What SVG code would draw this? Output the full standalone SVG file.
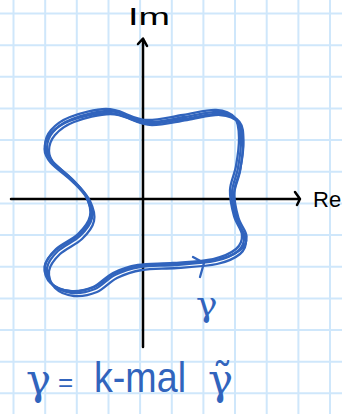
<svg xmlns="http://www.w3.org/2000/svg" width="342" height="414" viewBox="0 0 342 414">
<style>
.grid line{stroke:#cfe7fb;stroke-width:2}
.axis{stroke:#000;stroke-width:2.5;fill:none;stroke-linecap:round;stroke-linejoin:round}
.curve{stroke:#3164bd;stroke-width:2.3;fill:none;stroke-linecap:round;stroke-linejoin:round}
.blue{fill:#3164bd;font-family:"Liberation Sans",Arial,sans-serif}
.gam{fill:#3164bd;font-family:"DejaVu Serif","Liberation Serif",serif}
.black{fill:#000;font-family:"Liberation Sans",Arial,sans-serif}
</style>
<defs>
<path id="loop" d="M150,122 C161,122 172,119 185,117 C196,115.5 208.5,111.5 218,112 C227.5,112.5 233.2,115.3 237,120 C240.8,124.7 240.8,132 241,140 C241.2,148 239.5,159.3 238,168 C236.5,176.7 232.3,183.7 232,192 C231.7,200.3 234,210.5 236,218 C238,225.5 243.7,231.5 244,237 C244.3,242.5 242.8,247 238,251 C233.2,255 225.5,258.7 215,261 C204.5,263.3 187.5,264 175,265 C162.5,266 150,265.3 140,267 C130,268.7 122.5,271.3 115,275 C107.5,278.7 102.2,286 95,289 C87.8,292 79,293.7 72,293 C65,292.3 57.2,289.2 53,285 C48.8,280.8 46.2,273.7 47,268 C47.8,262.3 52.5,256.3 58,251 C63.5,245.7 74.3,241.5 80,236 C85.7,230.5 90.7,224.3 92,218 C93.3,211.7 91,204.2 88,198 C85,191.8 79.8,187 74,181 C68.2,175 57.5,167.5 53,162 C48.5,156.5 47,153 47,148 C47,143 48.8,136.8 53,132 C57.2,127.2 62.8,122.5 72,119 C81.2,115.5 98,111 108,111 C116,111 121,113 127,115.5 C134,118.5 141,122 150,122 Z"/>
</defs>
<rect width="342" height="414" fill="#fff"/>
<g class="grid">
<line x1="13.5" y1="0" x2="13.5" y2="414"/><line x1="45.2" y1="0" x2="45.2" y2="414"/><line x1="76.8" y1="0" x2="76.8" y2="414"/><line x1="108.5" y1="0" x2="108.5" y2="414"/><line x1="140.1" y1="0" x2="140.1" y2="414"/><line x1="171.8" y1="0" x2="171.8" y2="414"/><line x1="203.4" y1="0" x2="203.4" y2="414"/><line x1="235" y1="0" x2="235" y2="414"/><line x1="266.7" y1="0" x2="266.7" y2="414"/><line x1="298.4" y1="0" x2="298.4" y2="414"/><line x1="330" y1="0" x2="330" y2="414"/>
<line x1="0" y1="13.5" x2="342" y2="13.5"/><line x1="0" y1="45.2" x2="342" y2="45.2"/><line x1="0" y1="76.8" x2="342" y2="76.8"/><line x1="0" y1="108.5" x2="342" y2="108.5"/><line x1="0" y1="140.1" x2="342" y2="140.1"/><line x1="0" y1="171.8" x2="342" y2="171.8"/><line x1="0" y1="203.4" x2="342" y2="203.4"/><line x1="0" y1="235" x2="342" y2="235"/><line x1="0" y1="266.7" x2="342" y2="266.7"/><line x1="0" y1="298.4" x2="342" y2="298.4"/><line x1="0" y1="330" x2="342" y2="330"/><line x1="0" y1="361.7" x2="342" y2="361.7"/><line x1="0" y1="393.3" x2="342" y2="393.3"/>
</g>
<g id="connectors">
<path class="axis" d="M143,347 L143,39 M138,44 L143,38.5 L147,46"/>
<path class="axis" d="M11,199 L300,199 M295,192 L300,199 L297,205"/>
</g>
<g id="contour">
<use href="#loop" class="curve"/>
<use href="#loop" class="curve" transform="translate(2,3)"/>
<use href="#loop" class="curve" transform="translate(-2,-2)"/>
<use href="#loop" class="curve" transform="translate(143,200) scale(1.025,0.98) translate(-143,-200)"/>
<path class="curve" d="M193,257 L204,263 L200,277"/>
</g>
<g id="label-im"><text class="black" x="128" y="25" font-size="24" textLength="42" lengthAdjust="spacingAndGlyphs">Im</text></g>
<g id="label-re"><text class="black" x="313" y="207" font-size="22">Re</text></g>
<g id="label-gamma"><text class="gam" x="196" y="316" font-size="36">γ</text></g>
<g id="equation">
<text class="gam" font-size="42" x="26" y="394">γ</text>
<text class="blue" font-size="26" x="58" y="391">=</text>
<text class="blue" font-size="42" x="94" y="392" textLength="92" lengthAdjust="spacingAndGlyphs">k-mal</text>
<text class="gam" font-size="42" x="208" y="394">γ̃</text>
</g>
</svg>
